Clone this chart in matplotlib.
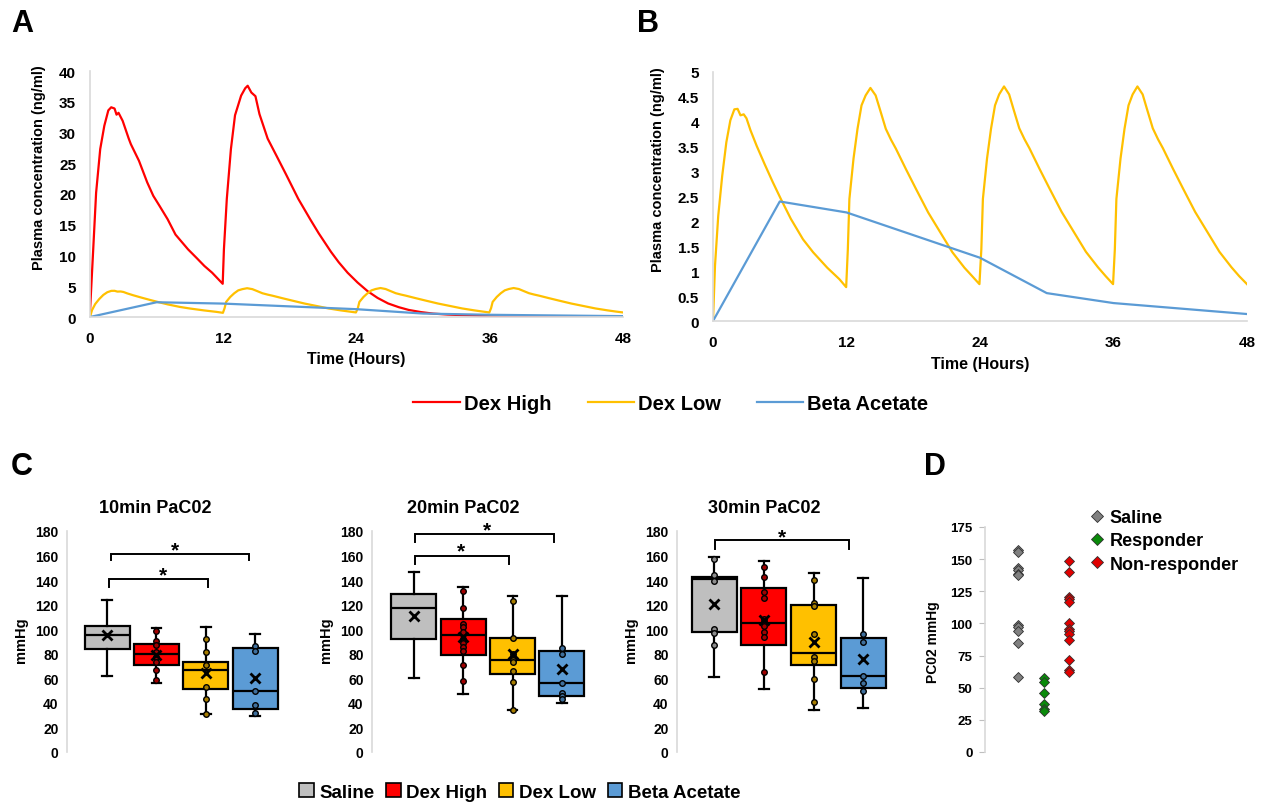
import matplotlib
matplotlib.use("Agg")
import matplotlib.pyplot as plt
from matplotlib.patches import Patch

plt.rcParams['font.family'] = ['Liberation Sans', 'DejaVu Sans']
plt.rcParams['font.weight'] = 'bold'

# ---------------- data: panels A / B (pharmacokinetics) ----------------
dex_high_t = [0, 0.29, 0.55, 0.92, 1.29, 1.65, 1.91, 2.21, 2.39, 2.57, 2.94, 3.49, 3.68, 4.41,
              5.15, 5.70, 6.25, 6.99, 7.7, 8.83, 9.6, 10.3, 11.0, 11.95,
              12.06, 12.32, 12.69, 13.06, 13.61, 13.98, 14.2, 14.53, 14.9, 15.26, 16.0,
              16.8, 17.65, 18.76, 19.86, 20.6, 21.7, 22.4, 23.2, 24.1, 25.0, 25.9, 26.85,
              27.8, 28.7, 29.8, 30.9, 32.2, 33.5, 36.0, 42.0, 48.0]
dex_high_v = [0.9, 11.0, 20.2, 27.3, 31.1, 33.6, 34.1, 33.9, 32.9, 33.2, 31.9, 29.0, 28.1, 25.4,
              21.9, 19.7, 18.1, 15.9, 13.4, 11.0, 9.6, 8.3, 7.2, 5.4,
              11.0, 19.2, 27.3, 32.8, 36.0, 37.2, 37.6, 36.5, 35.9, 33.0, 29.0,
              26.2, 23.2, 19.2, 15.8, 13.6, 10.6, 8.9, 7.2, 5.6, 4.2, 3.1, 2.2,
              1.6, 1.15, 0.8, 0.55, 0.4, 0.3, 0.12, 0.03, 0.0]

dex_low_t = [0, 0.18, 0.47, 0.83, 1.2, 1.56, 1.92, 2.21, 2.47, 2.76, 3.01, 3.37, 3.92, 4.64,
             5.37, 6.1, 7.0, 8.09, 9.0, 10.27, 11.36, 11.97,
             12.12, 12.26, 12.63, 12.99, 13.35, 13.72, 14.15, 14.62, 14.99, 15.53, 16.0, 16.44,
             17.34, 18.25, 19.34, 20.43, 21.52, 22.6, 23.3, 23.95,
             24.12, 24.26, 24.63, 24.99, 25.35, 25.72, 26.16, 26.62, 26.99, 27.53, 28.0, 28.44,
             29.34, 30.25, 31.34, 32.43, 33.52, 34.6, 35.3, 35.96,
             36.12, 36.26, 36.63, 36.99, 37.35, 37.72, 38.15, 38.62, 38.99, 39.53, 40.0, 40.44,
             41.34, 42.25, 43.34, 44.43, 45.52, 46.6, 47.3, 48.0]
dex_low_v = [0.0, 1.11, 2.11, 2.92, 3.59, 4.03, 4.25, 4.26, 4.13, 4.15, 4.07, 3.83, 3.52, 3.15,
             2.79, 2.45, 2.05, 1.64, 1.38, 1.07, 0.84, 0.68,
             1.44, 2.45, 3.26, 3.86, 4.33, 4.53, 4.68, 4.53, 4.26, 3.86, 3.64, 3.46,
             3.05, 2.65, 2.18, 1.78, 1.38, 1.07, 0.9, 0.74,
             1.44, 2.45, 3.26, 3.86, 4.33, 4.55, 4.71, 4.55, 4.27, 3.87, 3.65, 3.47,
             3.06, 2.66, 2.19, 1.79, 1.39, 1.08, 0.9, 0.74,
             1.44, 2.45, 3.26, 3.86, 4.33, 4.55, 4.71, 4.55, 4.27, 3.87, 3.65, 3.47,
             3.06, 2.66, 2.19, 1.79, 1.39, 1.08, 0.9, 0.74]

beta_t = [0, 6, 12, 24, 30, 36, 48]
beta_v = [0.0, 2.4, 2.18, 1.27, 0.56, 0.36, 0.14]

time_ticks = [0, 12, 24, 36, 48]
series_names = ['Dex High', 'Dex Low', 'Beta Acetate']
series_colors = ['#ff0000', '#ffc000', '#5b9bd5']

# ---------------- data: panel C (box plots) ----------------
groups = ['Saline', 'Dex High', 'Dex Low', 'Beta Acetate']
group_fill = ['#bfbfbf', '#ff0000', '#ffc000', '#5b9bd5']
group_dot = ['#8c8c8c', '#a00000', '#a67c00', '#3f6f9c']
c_titles = ['10min PaC02', '20min PaC02', '30min PaC02']

# per time point: whisker low, q1, median, q3, whisker high, mean (Saline, Dex High, Dex Low, Beta)
c10_whislo = [62, 56, 31, 29]
c10_q1 = [83.6, 71, 51, 35]
c10_med = [95, 79.5, 66.5, 50]
c10_q3 = [103, 88, 73, 84.5]
c10_whishi = [123.5, 101, 102, 96]
c10_mean = [95.6, 79, 64, 60]
c10_points = [[], [98.3, 90.1, 87.4, 81.5, 77.4, 73.3, 67.1, 58.4],
              [91.8, 81.5, 70.6, 52.9, 42.9, 31], [86.3, 82.3, 50, 38.6, 32]]

c20_whislo = [60.3, 47, 34, 40]
c20_q1 = [92.3, 79.3, 63.5, 45.6]
c20_med = [117.6, 95, 75.2, 56.5]
c20_q3 = [128.4, 108.6, 92.9, 82]
c20_whishi = [146.6, 134, 126.8, 126.8]
c20_mean = [110.5, 94, 80, 67.9]
c20_points = [[], [131, 117.6, 104.5, 101.8, 97.7, 92.3, 89, 85.5, 82, 71, 57.8],
              [122.7, 93, 80, 74.7, 73.3, 65.7, 57, 34], [84.7, 79.8, 56.5, 48.3, 45.6, 43]]

c30_whislo = [61.4, 51.3, 34, 35.8]
c30_q1 = [97.7, 87.4, 70.6, 52.4]
c30_med = [140.6, 104.8, 80.4, 61.9]
c30_q3 = [142.5, 133.6, 119.5, 93.1]
c30_whishi = [158.8, 155.6, 145.8, 141.7]
c30_mean = [120.8, 107.8, 89.6, 76]
c30_points = [[157.5, 144.4, 139, 100, 97.2, 87],
              [151, 142.5, 130.3, 125.4, 108.6, 105.9, 102.6, 97.7, 93.7, 65],
              [139.8, 121.6, 119, 96, 77.4, 74.4, 59.7, 40.7], [96.4, 90, 62, 56.5, 49.4]]

# significance brackets: (x start, x end, bar height, tick bottom, star x, star y)
c10_sig = [(1.08, 3.88, 161.5, 156.6, 2.38, 164.5), (1.04, 3.04, 141, 134, 2.14, 144.5)]
c20_sig = [(1.02, 3.84, 177.3, 171, 2.48, 180.5), (1.02, 2.93, 160, 153.4, 1.95, 163.5)]
c30_sig = [(1.02, 3.72, 172.4, 165, 2.37, 175.5)]

# ---------------- data: panel D ----------------
d_names = ['Saline', 'Responder', 'Non-responder']
d_colors = ['#808080', '#0a8a0a', '#e00000']
d_saline = [156.9, 155.6, 143.4, 141.3, 138.7, 137.4, 99, 97.2, 93.9, 84.8, 58.3]
d_responder = [57.8, 54.5, 46.2, 37.6, 33.2, 31.6]
d_nonresponder = [148.3, 140, 120.6, 119.3, 116.7, 100.3, 95.4, 93.9, 91.5, 87.4, 71.8, 63.5, 62.2]

# ---------------- figure ----------------
W, H = 1262, 803
fig = plt.figure(figsize=(W / 100, H / 100), dpi=100)


def rect(l, t, r, b):
    return [l / W, 1 - b / H, (r - l) / W, (b - t) / H]


def fxy(x, y):
    return x / W, 1 - y / H


GRID = '#d9d9d9'


def light_axes(ax, bottom=True):
    for s in ['top', 'right']:
        ax.spines[s].set_visible(False)
    ax.spines['left'].set_color(GRID)
    ax.spines['left'].set_linewidth(1.2)
    if bottom:
        ax.spines['bottom'].set_color(GRID)
        ax.spines['bottom'].set_linewidth(1.2)
    else:
        ax.spines['bottom'].set_visible(False)


# Panels A and B
axA = fig.add_axes(rect(90, 72, 623, 318))
axB = fig.add_axes(rect(713, 73, 1247, 322))
lines = []
for ax, ylim, yt in [(axA, 40, range(0, 41, 5)), (axB, 5, [0, 0.5, 1, 1.5, 2, 2.5, 3, 3.5, 4, 4.5, 5])]:
    light_axes(ax)
    if ax is axA:
        l1, = ax.plot(dex_high_t, dex_high_v, color=series_colors[0], lw=1.6)
        lines.append(l1)
    l2, = ax.plot(dex_low_t, dex_low_v, color=series_colors[1], lw=1.6)
    l3, = ax.plot(beta_t, beta_v, color=series_colors[2], lw=1.6)
    if ax is axA:
        lines += [l2, l3]
    ax.set_xlim(0, 48)
    ax.set_ylim(0, ylim)
    ax.set_xticks(time_ticks)
    ax.set_yticks(list(yt))
    ax.set_yticklabels([('%g' % v) for v in yt])
    ax.tick_params(length=0, labelsize=11, pad=10)
    for t in ax.get_xticklabels() + ax.get_yticklabels():
        t.set_fontweight('bold')

fig.text(*fxy(39, 168), 'Plasma concentration (ng/ml)', rotation=90, ha='center', va='center',
         fontsize=10.5, fontweight='bold')
fig.text(*fxy(658, 170), 'Plasma concentration (ng/ml)', rotation=90, ha='center', va='center',
         fontsize=10.5, fontweight='bold')
fig.text(*fxy(356, 360), 'Time (Hours)', ha='center', va='center', fontsize=11.5, fontweight='bold')
fig.text(*fxy(980, 365), 'Time (Hours)', ha='center', va='center', fontsize=11.5, fontweight='bold')

fig.legend(lines, series_names, loc='center', bbox_to_anchor=fxy(671, 405), ncol=3, frameon=False,
           prop={'size': 14.5, 'weight': 'bold'}, handlelength=2.3, handletextpad=0.2,
           columnspacing=1.8)

# Panel letters
for lab, x, y in [('A', 22, 24), ('B', 648, 24), ('C', 22, 467), ('D', 935, 467)]:
    fig.text(*fxy(x, y), lab, ha='center', va='center', fontsize=22, fontweight='bold')

# Panel C
c_sets = [
    (c10_whislo, c10_q1, c10_med, c10_q3, c10_whishi, c10_mean, c10_points, c10_sig),
    (c20_whislo, c20_q1, c20_med, c20_q3, c20_whishi, c20_mean, c20_points, c20_sig),
    (c30_whislo, c30_q1, c30_med, c30_q3, c30_whishi, c30_mean, c30_points, c30_sig),
]
c_lefts = [67, 372, 677]
c_xlims = [(0.19, 4.6), (0.15, 4.57), (0.25, 4.64)]
c_title_x = [155, 463, 764]
positions = [1, 2, 3, 4]
for i, (wl, q1, md, q3, wh, mn, pts, sig) in enumerate(c_sets):
    ax = fig.add_axes(rect(c_lefts[i], 532, c_lefts[i] + 218, 753))
    light_axes(ax, bottom=False)
    stats = []
    for g in range(4):
        stats.append(dict(whislo=wl[g], q1=q1[g], med=md[g], q3=q3[g], whishi=wh[g],
                          mean=mn[g], fliers=[]))
    bp = ax.bxp(stats, positions=positions, widths=0.91, patch_artist=True, showmeans=True,
                showfliers=False, manage_ticks=False, capwidths=0.2,
                boxprops=dict(edgecolor='black', linewidth=1.6),
                whiskerprops=dict(color='black', linewidth=1.6),
                capprops=dict(color='black', linewidth=1.6),
                medianprops=dict(color='black', linewidth=1.6),
                meanprops=dict(marker='x', markeredgecolor='black', markersize=7,
                               markeredgewidth=2, zorder=6))
    for patch, fc in zip(bp['boxes'], group_fill):
        patch.set_facecolor(fc)
    for g in range(4):
        if pts[g]:
            ax.plot([positions[g]] * len(pts[g]), pts[g], linestyle='none', marker='o',
                    markersize=4, markerfacecolor=group_dot[g], markeredgecolor='black',
                    markeredgewidth=1.0, zorder=5)
    for (x1, x2, yb, yt_, sx, sy) in sig:
        ax.plot([x1, x1, x2, x2], [yt_, yb, yb, yt_], color='black', lw=1.4, clip_on=False,
                solid_joinstyle='miter')
        ax.text(sx, sy, '*', ha='center', va='center', fontsize=15, fontweight='bold',
                clip_on=False)
    ax.set_xlim(*c_xlims[i])
    ax.set_ylim(0, 180)
    ax.set_yticks(range(0, 181, 20))
    ax.set_xticks([])
    ax.tick_params(axis='y', length=0, labelsize=10, pad=6)
    for t in ax.get_yticklabels():
        t.set_fontweight('bold')
    fig.text(*fxy(c_lefts[i] - 46, 640), 'mmHg', rotation=90, ha='center', va='center',
             fontsize=10.5, fontweight='bold')
    fig.text(*fxy(c_title_x[i], 509), c_titles[i], ha='center', va='center', fontsize=13,
             fontweight='bold')

handles_c = [Patch(facecolor=c, edgecolor='black', linewidth=1.2) for c in group_fill]
fig.legend(handles_c, groups, loc='center', bbox_to_anchor=fxy(520, 793), ncol=4, frameon=False,
           prop={'size': 13.5, 'weight': 'bold'}, handlelength=0.75, handleheight=0.75,
           handletextpad=0.3, columnspacing=0.65)

# Panel D
axD = fig.add_axes(rect(985, 528, 1095, 753))
light_axes(axD, bottom=False)
d_series = [d_saline, d_responder, d_nonresponder]
d_handles = []
for k, vals in enumerate(d_series):
    h, = axD.plot([k + 1] * len(vals), vals, linestyle='none', marker='D', markersize=5,
                  markerfacecolor=d_colors[k], markeredgecolor='#303030', markeredgewidth=0.6)
    d_handles.append(h)
axD.set_xlim(1 - 1.29, 4.0)
axD.set_ylim(0, 175)
axD.set_yticks(range(0, 176, 25))
axD.set_xticks([])
axD.tick_params(axis='y', length=4, color='#bfbfbf', labelsize=9.5, pad=5)
for t in axD.get_yticklabels():
    t.set_fontweight('bold')
fig.text(*fxy(933, 642), 'PC02 mmHg', rotation=90, ha='center', va='center', fontsize=10,
         fontweight='bold')
axD.legend(d_handles, d_names, loc='upper left', bbox_to_anchor=fxy(1090, 510),
           bbox_transform=fig.transFigure, frameon=False, prop={'size': 13, 'weight': 'bold'},
           handlelength=0.8, handletextpad=0.3, labelspacing=0.35, borderpad=0, borderaxespad=0,
           markerscale=1.3)

fig.savefig('out.png', dpi=100)
